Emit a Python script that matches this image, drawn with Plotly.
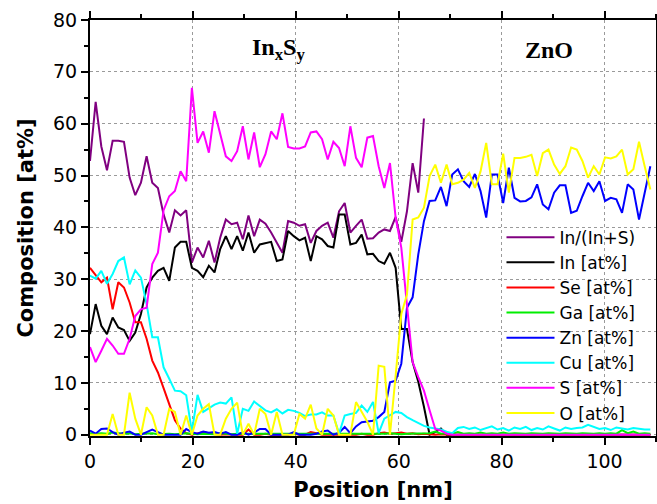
import plotly.graph_objects as go

# Depth positions (nm)
position = [0.0, 1.1, 2.2, 3.3, 4.4, 5.5, 6.6, 7.7, 8.8, 9.9,
            11.0, 12.1, 13.2, 14.3, 15.4, 16.5, 17.6, 18.7, 19.8, 20.9,
            22.0, 23.1, 24.2, 25.3, 26.4, 27.5, 28.6, 29.7, 30.8, 31.9,
            33.0, 34.1, 35.2, 36.3, 37.4, 38.5, 39.6, 40.7, 41.8, 42.9,
            44.0, 45.1, 46.2, 47.3, 48.4, 49.5, 50.6, 51.7, 52.8, 53.9,
            55.0, 56.1, 57.2, 58.3, 59.4, 60.5, 61.6, 62.7, 63.8, 64.9,
            66.0, 67.1, 68.2, 69.3, 70.4, 71.5, 72.6, 73.7, 74.8, 75.9,
            77.0, 78.1, 79.2, 80.3, 81.4, 82.5, 83.6, 84.7, 85.8, 86.9,
            88.0, 89.1, 90.2, 91.3, 92.4, 93.5, 94.6, 95.7, 96.8, 97.9,
            99.0, 100.1, 101.2, 102.3, 103.4, 104.5, 105.6, 106.7, 107.8, 108.9]

in_ratio = [52.8, 64.2, 55.6, 51.0, 56.7, 56.7, 56.5, 49.6, 46.2, 48.6,
            53.7, 48.6, 47.6, 42.5, 39.0, 43.3, 42.3, 43.3, 33.2, 36.1,
            34.2, 37.4, 33.2, 38.0, 41.5, 40.6, 40.9, 37.7, 42.3, 38.3,
            41.5, 40.7, 39.0, 37.0, 35.1, 41.2, 40.9, 40.3, 40.6, 37.0,
            39.3, 40.3, 40.9, 38.0, 43.1, 44.7, 39.0, 40.3, 41.5, 37.8,
            37.9, 39.0, 39.6, 39.3, 42.0, 37.2, 43.1, 52.4, 46.7, 61.0]

in_at = [19.4, 25.2, 21.0, 19.4, 22.6, 20.7, 20.2, 18.1, 19.7, 23.3,
         28.4, 30.3, 31.6, 32.2, 29.7, 36.1, 37.2, 37.2, 32.2, 31.6,
         30.4, 32.6, 31.3, 35.8, 38.3, 35.8, 38.3, 35.5, 39.0, 35.1,
         36.7, 37.0, 37.2, 33.5, 33.8, 39.3, 38.3, 37.5, 38.0, 33.5,
         38.3, 37.7, 36.4, 36.1, 42.5, 42.5, 36.7, 37.0, 38.6, 34.8,
         34.9, 33.5, 33.0, 35.1, 32.2, 20.4, 20.4, 14.0, 10.2, 5.4,
         0.0, 0.5, 1.2, 0.0, 0.0, 0.0, 0.0, 0.0, 0.0, 0.0,
         0.0, 0.0, 0.0, 0.0, 0.0, 0.0, 0.0, 0.0, 0.0, 0.0,
         0.0, 0.0, 0.0, 0.0, 0.0, 0.0, 0.0, 0.0, 0.0, 0.0,
         0.0, 0.0, 0.0, 0.0, 0.0, 0.0, 0.0, 0.0, 0.0, 0.0]

se_at = [32.2, 30.7, 29.4, 30.3, 24.2, 29.4, 28.4, 25.5, 21.7, 21.7,
         18.5, 14.3, 12.0, 9.0, 5.8, 2.8, 1.2, 0.3, 0.0, 0.2,
         0.5, 0.3, 0.1, 0.0, 0.1, 0.0, 0.0, 0.0, 1.0, 0.0,
         0.0, 0.2, 0.0, 0.0, 0.0, 0.0, 0.2, 0.0, 0.0, 0.5,
         0.3, 0.0, 0.0, 0.0, 0.0, 0.1, 0.0, 0.0, 0.2, 0.0,
         0.0, 0.3, 0.4, 0.2, 0.3, 0.4, 0.2, 0.3, 0.1, 0.2,
         0.1, 0.0, 0.1, 0.0, 0.0, 0.0, 0.1, 0.0, 0.0, 0.0,
         0.0, 0.0, 0.0, 0.0, 0.0, 0.0, 0.0, 0.0, 0.0, 0.0,
         0.0, 0.0, 0.0, 0.0, 0.0, 0.0, 0.0, 0.0, 0.0, 0.0,
         0.0, 0.0, 0.0, 0.0, 0.0, 0.0, 0.0, 0.0, 0.0, 0.0]

ga_at = [0.3, 0.2, 0.3, 0.2, 0.4, 0.3, 0.2, 0.3, 0.1, 0.2,
         0.2, 0.3, 0.1, 0.2, 0.2, 0.1, 0.2, 0.3, 0.2, 0.1,
         0.2, 0.2, 0.1, 0.3, 0.2, 0.1, 0.2, 0.2, 0.1, 0.2,
         0.1, 0.2, 0.2, 0.1, 0.2, 0.2, 0.1, 0.2, 0.1, 0.2,
         0.2, 0.1, 0.2, 0.2, 0.1, 0.2, 0.1, 0.2, 0.2, 0.1,
         0.2, 0.1, 0.2, 0.3, 0.2, 0.1, 0.2, 0.2, 0.3, 0.2,
         0.3, 0.6, 0.2, 0.3, 0.2, 0.5, 0.2, 0.3, 0.2, 0.4,
         0.2, 0.3, 0.2, 0.4, 0.2, 0.3, 0.2, 0.2, 0.3, 0.2,
         0.2, 0.3, 0.2, 0.2, 0.3, 0.2, 0.2, 0.3, 0.2, 0.2,
         0.3, 0.2, 0.3, 0.2, 0.9, 0.3, 0.6, 0.2, 0.3, 0.2]

zn_at = [0.8, 0.2, 1.1, 1.2, 0.5, 0.0, 0.4, 0.6, 0.0, 0.0,
         0.5, 1.0, 0.5, 0.0, 0.0, 0.0, 0.0, 1.1, 0.5, 0.2,
         0.6, 0.4, 0.5, 0.2, 0.5, 0.0, 0.0, 0.5, 0.0, 0.4,
         1.1, 1.1, 0.0, 0.0, 0.0, 0.0, 0.5, 0.0, 0.0, 0.0,
         0.2, 0.6, 0.8, 0.0, 0.4, 1.5, 0.3, 1.6, 2.4, 2.6,
         2.7, 3.4, 4.4, 10.1, 10.4, 13.7, 24.5, 26.5, 34.8, 41.2,
         45.1, 45.2, 47.8, 44.1, 50.2, 51.2, 48.9, 47.8, 50.3, 47.0,
         41.9, 50.2, 50.2, 44.7, 51.5, 45.7, 45.0, 45.1, 45.8, 48.3,
         44.4, 43.5, 46.7, 48.1, 48.1, 42.8, 43.2, 46.0, 48.6, 47.0,
         48.9, 45.1, 45.7, 45.4, 42.8, 48.3, 47.3, 41.5, 47.0, 51.8]

cu_at = [30.7, 30.1, 31.6, 29.1, 31.0, 33.5, 34.2, 29.0, 31.7, 30.3,
         25.2, 18.8, 18.8, 13.0, 10.8, 8.5, 8.4, 7.6, 0.6, 7.7,
         4.4, 5.1, 5.8, 6.2, 6.0, 7.2, 0.2, 5.0, 4.6, 6.4,
         5.6, 4.7, 4.3, 4.9, 4.1, 4.8, 4.6, 4.2, 3.6, 3.9,
         3.9, 4.3, 3.7, 3.7, 0.2, 3.7, 4.0, 4.2, 5.6, 4.4,
         6.3, 0.3, 3.1, 3.7, 4.4, 4.2, 3.4, 2.8, 2.2, 1.7,
         1.4, 1.2, 1.0, 0.6, 0.3, 1.3, 1.5, 1.1, 1.4, 0.9,
         1.3, 1.6, 1.0, 1.3, 0.8, 1.4, 1.1, 1.5, 0.9, 1.3,
         1.0, 1.6, 1.2, 0.8, 1.4, 1.1, 1.3, 1.4, 1.9, 1.5,
         1.1, 1.3, 0.9, 1.4, 1.2, 1.0, 1.3, 1.1, 1.0, 1.0]

s_at = [16.9, 14.0, 16.2, 18.5, 17.2, 15.6, 15.6, 18.5, 22.9, 24.2,
        24.5, 32.9, 35.1, 43.3, 46.0, 47.0, 50.8, 48.9, 66.9, 56.3,
        58.5, 54.4, 62.4, 58.3, 53.7, 52.8, 54.7, 59.5, 53.1, 58.3,
        51.6, 54.1, 58.5, 57.0, 62.0, 55.5, 55.2, 55.2, 55.6, 58.3,
        58.5, 57.0, 53.1, 56.5, 55.3, 51.8, 59.5, 53.4, 51.6, 57.3,
        57.6, 51.8, 47.6, 52.4, 41.9, 36.1, 25.2, 14.0, 11.1, 8.5,
        4.7, 1.1, 0.8, 0.2, 0.0, 0.0, 0.0, 0.0, 0.0, 0.0,
        0.0, 0.0, 0.0, 0.0, 0.0, 0.0, 0.0, 0.0, 0.0, 0.0,
        0.0, 0.0, 0.0, 0.0, 0.0, 0.0, 0.0, 0.0, 0.0, 0.0,
        0.0, 0.0, 0.0, 0.0, 0.0, 0.0, 0.0, 0.0, 0.0, 0.0]

o_at = [0.0, 0.0, 0.0, 0.0, 4.0, 0.0, 0.0, 8.1, 3.1, 0.0,
        5.3, 3.7, 0.0, 0.0, 5.0, 4.4, 0.0, 3.7, 0.0, 3.7,
        5.0, 5.9, 0.0, 0.0, 3.1, 5.0, 6.2, 0.0, 2.1, 0.0,
        5.0, 4.0, 0.0, 4.4, 0.0, 0.0, 0.0, 4.0, 3.1, 5.8,
        1.2, 0.0, 5.0, 3.7, 0.0, 0.0, 0.0, 6.3, 4.5, 2.5,
        0.0, 13.3, 13.1, 0.0, 11.4, 23.3, 27.0, 41.5, 41.9, 43.8,
        49.9, 52.1, 48.6, 52.1, 48.3, 48.6, 49.2, 50.5, 47.6, 50.8,
        56.3, 48.3, 48.3, 54.2, 46.7, 53.4, 53.4, 53.6, 54.0, 49.9,
        54.3, 55.0, 52.1, 50.3, 51.8, 55.4, 55.0, 52.8, 49.6, 51.8,
        50.2, 53.5, 53.3, 53.7, 55.0, 50.2, 51.2, 56.5, 51.8, 47.3]

series_names = ["In/(In+S)", "In [at%]", "Se [at%]", "Ga [at%]",
                "Zn [at%]", "Cu [at%]", "S [at%]", "O [at%]"]
series_values = [in_ratio, in_at, se_at, ga_at, zn_at, cu_at, s_at, o_at]
series_colors = ["#800080", "#000000", "#ff0000", "#00ee00",
                 "#0000ff", "#00ffff", "#ff00ff", "#ffff00"]

fig = go.Figure()
for name, vals, col in zip(series_names, series_values, series_colors):
    fig.add_trace(go.Scatter(
        x=position[:len(vals)], y=vals, mode="lines", name=name,
        line=dict(color=col, width=2)))

axis_common = dict(
    showline=True, linecolor="black", linewidth=2, mirror="ticks",
    ticks="outside", ticklen=7, tickwidth=2, tickcolor="black",
    showgrid=True, gridcolor="#9a9a9a", griddash="dot", gridwidth=1,
    zeroline=False, automargin=False,
    tickfont=dict(family="DejaVu Sans", size=19, color="black"),
)

fig.update_xaxes(range=[0, 110], tick0=0, dtick=20,
                 minor=dict(dtick=10, ticklen=4, tickwidth=2, ticks="outside",
                            tickcolor="black", showgrid=False),
                 title=dict(text="<b>Position [nm]</b>", standoff=12,
                            font=dict(family="DejaVu Sans", size=21, color="black")),
                 **axis_common)
fig.update_yaxes(range=[-0.25, 80], tick0=0, dtick=10,
                 minor=dict(dtick=5, ticklen=4, tickwidth=2, ticks="outside",
                            tickcolor="black", showgrid=False),
                 title=dict(text="<b>Composition [at%]</b>", standoff=14,
                            font=dict(family="DejaVu Sans", size=21, color="black")),
                 **axis_common)

fig.add_annotation(x=36.6, y=74.5, xref="x", yref="y", showarrow=False,
                   text="<b>In<sub>x</sub>S<sub>y</sub></b>",
                   font=dict(family="Liberation Serif", size=24, color="black"))
fig.add_annotation(x=89.2, y=74.3, xref="x", yref="y", showarrow=False,
                   text="<b>ZnO</b>",
                   font=dict(family="Liberation Serif", size=24, color="black"))

fig.update_layout(
    width=657, height=504,
    margin=dict(l=90, r=1, t=20, b=68),
    plot_bgcolor="white", paper_bgcolor="white",
    font=dict(family="DejaVu Sans", size=19, color="black"),
    legend=dict(x=0.727, y=0.52, xanchor="left", yanchor="top",
                bgcolor="rgba(0,0,0,0)", borderwidth=0, itemwidth=48,
                font=dict(family="DejaVu Sans", size=17, color="black"),
                tracegroupgap=0),
)

fig.write_html("out.html")
